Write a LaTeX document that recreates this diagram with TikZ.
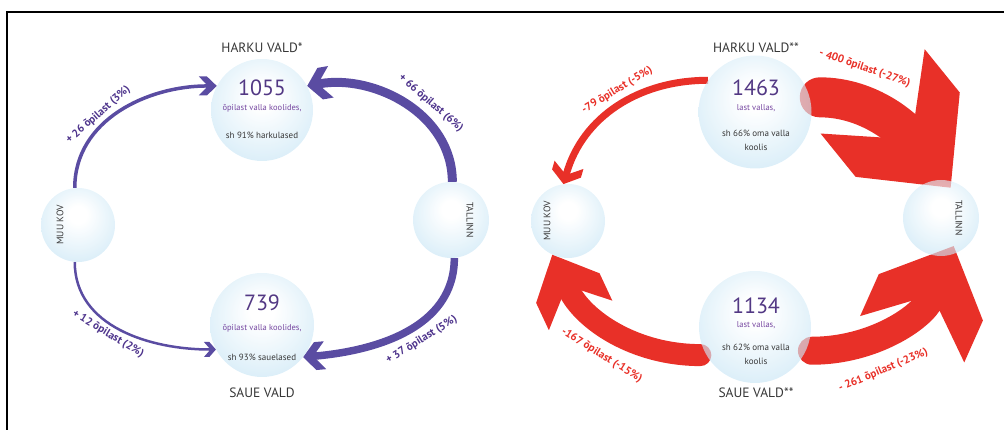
\documentclass[tikz,border=0pt]{standalone}
\usepackage{fontspec}
\setmainfont{PT Sans}
\usetikzlibrary{arrows.meta,backgrounds}

\definecolor{flowpurple}{RGB}{90,76,162}
\definecolor{labelpurple}{RGB}{78,52,140}
\definecolor{flowred}{RGB}{232,48,40}
\definecolor{numpurple}{RGB}{82,56,132}
\definecolor{smallpurple}{RGB}{118,70,160}
\definecolor{textgray}{RGB}{55,55,55}
\definecolor{bubbleblue}{RGB}{150,206,236}

\pgfdeclareradialshading{bubble}{\pgfpoint{0bp}{8bp}}{%
  color(0bp)=(white); color(6bp)=(white); color(30bp)=(white!45!bubbleblue); color(47bp)=(bubbleblue); color(50bp)=(white!40!bubbleblue)}

% wide arrow head with flat wings
\pgfdeclarearrow{
  name = FlowHead,
  parameters = {\the\pgfarrowlength,\the\pgfarrowwidth,\the\pgfarrowinset},
  setup code = {
    \pgfarrowssettipend{0pt}
    \pgfarrowssetlineend{-.9\pgfarrowinset}
    \pgfarrowssetbackend{-\pgfarrowlength}
    \pgfarrowssavethe\pgfarrowlength
    \pgfarrowssavethe\pgfarrowwidth
    \pgfarrowssavethe\pgfarrowinset
  },
  drawing code = {
    \pgfpathmoveto{\pgfpointorigin}
    \pgfpathlineto{\pgfpoint{-.55\pgfarrowlength}{.5\pgfarrowwidth}}
    \pgfpathlineto{\pgfpoint{-\pgfarrowlength}{.5\pgfarrowwidth}}
    \pgfpathlineto{\pgfpoint{-\pgfarrowinset}{.12\pgfarrowwidth}}
    \pgfpathlineto{\pgfpoint{-\pgfarrowinset}{-.12\pgfarrowwidth}}
    \pgfpathlineto{\pgfpoint{-\pgfarrowlength}{-.5\pgfarrowwidth}}
    \pgfpathlineto{\pgfpoint{-.55\pgfarrowlength}{-.5\pgfarrowwidth}}
    \pgfpathclose
    \pgfusepathqfill
  },
  defaults = {length = 12pt, width = 12pt, inset = 7pt}
}

\begin{document}
\begin{tikzpicture}[x=1pt, y=1pt,
  bubble/.style={circle, shade, shading=bubble, fill opacity=.65, text opacity=1, inner sep=0pt},
  title/.style={text=textgray, font=\fontsize{13.5}{15}\selectfont},
  bignum/.style={text=numpurple, font=\fontsize{22}{24}\selectfont},
  subline/.style={text=smallpurple, font=\fontsize{8.5}{10}\selectfont},
  shline/.style={text=textgray, font=\fontsize{9}{14}\selectfont, align=center},
  sidename/.style={text=textgray, font=\fontsize{9.5}{10}\selectfont},
  purpleflow/.style={color=flowpurple},
  redflow/.style={color=flowred},
  purplelabel/.style={text=labelpurple, font=\fontsize{11}{12}\selectfont\bfseries, sloped},
  redlabel/.style={text=flowred, font=\fontsize{11}{12}\selectfont\bfseries, sloped}]
  \useasboundingbox (0,0) rectangle (1004,430);

  % frame
  \draw[line width=1.2pt] (7,0) -- (7,418) -- (1004,418);

  % bubbles, left
  \node[bubble, minimum size=102pt] (h1) at (262,320) {};
  \node[bubble, minimum size=104pt] (s1) at (262,105) {};
  \node[bubble, minimum size=74pt] (m1) at (78,205) {};
  \node[bubble, minimum size=76pt] (t1) at (451,210) {};
  % bubbles, right
  \node[bubble, minimum size=113pt] (h2) at (755,318) {};
  \node[bubble, minimum size=112pt] (s2) at (755,103) {};
  \node[bubble, minimum size=74pt] (m2) at (568,209) {};
  \node[bubble, minimum size=76pt] (t2) at (941,212) {};

  % texts, left
  \node[title] (h1title) at (262,382) {HARKU VALD*};
  \node[bignum] (h1num) at (262,342) {1055};
  \node[subline] (h1sub) at (262,322) {õpilast valla koolides,};
  \node[shline] (h1sh) at (262,295) {sh 91\% harkulased};
  \node[title] (s1title) at (262,37) {SAUE VALD};
  \node[bignum] (s1num) at (262,127) {739};
  \node[subline] (s1sub) at (262,102) {õpilast valla koolides,};
  \node[shline] (s1sh) at (262,73) {sh 93\% sauelased};
  \node[sidename, rotate=90] (m1name) at (60,205) {MUU KOV};
  \node[sidename, rotate=-90] (t1name) at (470,210) {TALLINN};

  % texts, right
  \node[title] (h2title) at (756,382) {HARKU VALD**};
  \node[bignum] (h2num) at (756,342) {1463};
  \node[subline] (h2sub) at (756,322) {last vallas,};
  \node[shline] (h2sh) at (756,290) {sh 66\% oma valla\\koolis};
  \node[title] (s2title) at (756,37) {SAUE VALD**};
  \node[bignum] (s2num) at (756,124) {1134};
  \node[subline] (s2sub) at (756,105) {last vallas,};
  \node[shline] (s2sh) at (756,76) {sh 62\% oma valla\\koolis};
  \node[sidename, rotate=90] (m2name) at (547,209) {MUU KOV};
  \node[sidename, rotate=-90] (t2name) at (959,212) {TALLINN};

  % flows go behind the bubbles
  \begin{scope}[on background layer]
    \draw[purpleflow, line width=3.5pt, -{FlowHead[length=18pt,width=19pt,inset=11pt]}]
      (m1.95) to[out=90, in=180] node[purplelabel, above, pos=.4] {+ 26 õpilast (3\%)} (h1.152);
    \draw[purpleflow, line width=9pt, -{FlowHead[length=24pt,width=32pt,inset=14pt]}]
      (t1.88) to[out=90, in=10] node[purplelabel, above=3pt, pos=.4] {+ 66 õpilast (6\%)} (h1.28);
    \draw[purpleflow, line width=2.5pt, -{FlowHead[length=12pt,width=15pt,inset=7pt]}]
      (m1.265) to[out=270, in=180] node[purplelabel, below, pos=.45] {+ 12 õpilast (2\%)} (s1.208);
    \draw[purpleflow, line width=7.5pt, -{FlowHead[length=22pt,width=28pt,inset=13pt]}]
      (t1.275) to[out=270, in=5] node[purplelabel, below=3pt, pos=.45] {+ 37 õpilast (5\%)} (s1.-38);

    \draw[redflow, line width=7pt, -{FlowHead[length=20pt,width=30pt,inset=12pt]}]
      (h2.146) to[out=180, in=74] node[redlabel, above=2pt, pos=.45] {-79 õpilast (-5\%)} (m2.97);
    \draw[redflow, line width=40pt, line cap=round, shorten <=10pt, shorten >=-10pt,
      -{FlowHead[length=124pt,width=134pt,inset=77pt]}]
      (h2.15) to[out=0, in=129] node[redlabel, above=9pt, pos=.26] {- 400 õpilast (-27\%)} (t2.85);
    \draw[redflow, line width=22pt, line cap=round, shorten <=6pt,
      -{FlowHead[length=67pt,width=70pt,inset=42pt]}]
      (s2.210) to[out=180, in=-65] node[redlabel, below=9pt, pos=.48] {-167 õpilast (-15\%)} (m2.245);
    \draw[redflow, line width=28pt, line cap=round, shorten <=6pt, shorten >=-10pt,
      -{FlowHead[length=102pt,width=114pt,inset=65pt]}]
      (s2.-25) to[out=0, in=246] node[redlabel, below=12pt, pos=.35] {- 261 õpilast (-23\%)} (t2.283);
  \end{scope}
\end{tikzpicture}
\end{document}
